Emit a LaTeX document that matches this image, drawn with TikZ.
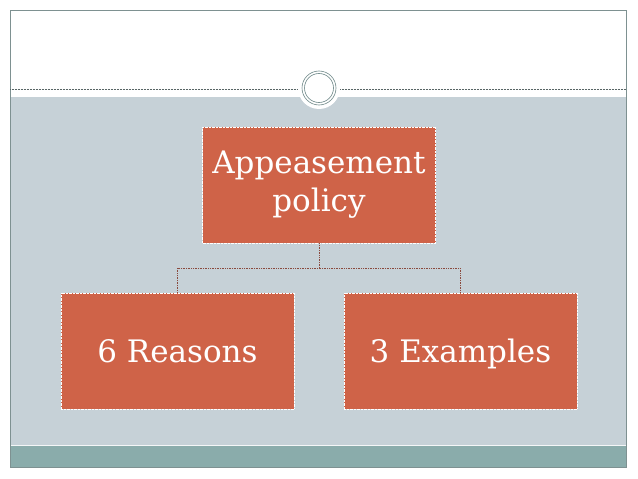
\documentclass[tikz,border=0pt]{standalone}
\usepackage{fontspec}
\setmainfont{DejaVu Serif}
\usetikzlibrary{positioning}
\definecolor{slide}{HTML}{C6D1D7}
\definecolor{band}{HTML}{8AACAB}
\definecolor{frame}{HTML}{7E9191}
\definecolor{brick}{HTML}{CF6348}
\definecolor{link}{HTML}{8A4A3E}
\definecolor{ring}{HTML}{6E8888}
\begin{document}
\begin{tikzpicture}[x=1pt,y=-1pt]
	\tikzstyle{Box} = [rectangle, draw=white, densely dotted, fill=brick, text=white, minimum width=233, minimum height=116, inner sep=0pt, align=center, font=\fontsize{31}{38}\selectfont]
	\tikzstyle{Link} = [draw=link, densely dotted, line width=0.7pt]
	\useasboundingbox (0,0) rectangle (638,479);
	\fill[white] (0,0) rectangle (638,479);
	% slide background
	\fill[slide] (10,97) rectangle (626,445);
	\fill[band] (10,445) rectangle (626,467);
	\draw[white!80!slide, line width=0.6pt] (10,445) -- (626,445);
	\draw[frame, line width=0.8pt] (10,10) rectangle (626,467);
	\draw[frame!70!black, densely dotted, line width=0.5pt] (10,89) -- (626,89);
	% ring
	\fill[white] (319,88) circle (21);
	\draw[ring, line width=0.6pt] (319,88) circle (17);
	\draw[ring, line width=0.6pt] (319,88) circle (14.5);
	% chart
	\node (top) at (319,185) [Box] {Appeasement\\policy};
	\node (reasons) at (177.5,351) [Box, text height=23, text depth=0] {6 Reasons};
	\node (examples) at (460.5,351) [Box, text height=23, text depth=0] {3 Examples};
	\coordinate (mid) at (319,268);
	\coordinate (midl) at (reasons.north |- mid);
	\coordinate (midr) at (examples.north |- mid);
	\draw [Link] (top) to (mid);
	\draw [Link] (midl) to (midr);
	\draw [Link] (midl) to (reasons);
	\draw [Link] (midr) to (examples);
\end{tikzpicture}
\end{document}
